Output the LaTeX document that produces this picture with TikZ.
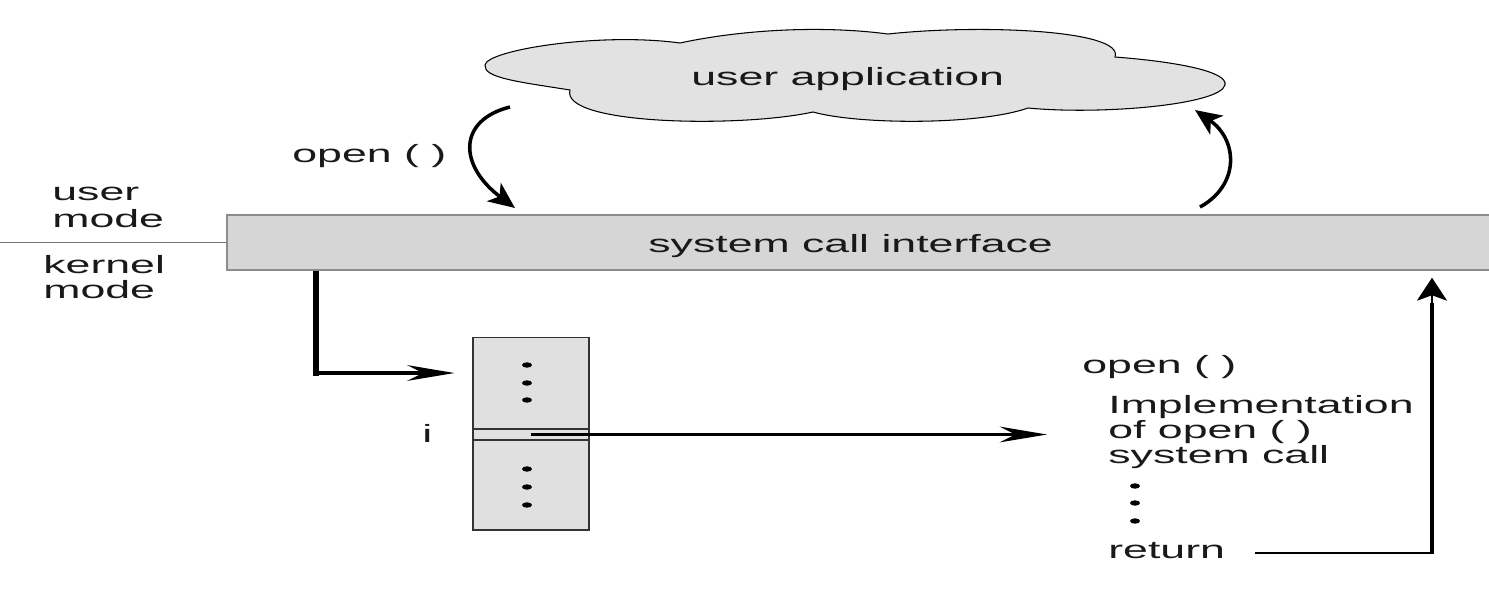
\documentclass[tikz,border=0pt]{standalone}
\usepackage{fontspec}
\setmainfont{Liberation Sans}[FakeStretch=1.79]
\usepackage{tikz}
\usetikzlibrary{arrows.meta}
\definecolor{cloudgray}{RGB}{226,226,226}
\definecolor{bargray}{RGB}{214,214,214}
\definecolor{bardraw}{RGB}{140,140,140}
\definecolor{tablegray}{RGB}{224,224,224}
\newcommand{\figfont}{\fontsize{14.2}{14.5}\selectfont}

\begin{document}
\begin{tikzpicture}[
    x=0.02cm, y=-0.02cm,
    font=\figfont,
    txt/.style={inner sep=0pt, anchor=base west, text=black!90},
    callarrow/.style={line width=1.8pt, -{Stealth[length=27pt, width=9pt, inset=9pt]}},
    uparrow/.style={line width=1.6pt, -{Stealth[length=13pt, width=17pt, inset=3pt]}},
    curvearrow/.style={line width=2pt, -{Stealth[length=15pt, width=13pt, inset=4pt]}},
    vline/.style={line width=3.2pt},
    tabledot/.style={fill=black}
]
    \useasboundingbox (0,0) rectangle (1489,600);

    % user application cloud
    \draw[fill=cloudgray, line width=0.6pt]
        (570,90) .. controls (520,82) and (483,78) .. (485,65)
        .. controls (487,50) and (600,32) .. (680,43)
        .. controls (740,30) and (820,25) .. (888,34)
        .. controls (980,24) and (1125,30) .. (1115,57)
        .. controls (1180,62) and (1228,72) .. (1225,85)
        .. controls (1220,105) and (1100,115) .. (1028,108)
        .. controls (980,125) and (860,125) .. (813,112)
        .. controls (740,128) and (560,125) .. cycle;
    \node[txt] (app) at (691,85) {user application};

    % system call interface bar
    \node[
        fill=bargray,
        draw=bardraw,
        line width=0.8pt,
        minimum width=25.4cm,
        minimum height=1.1cm,
        inner sep=0pt
    ] (sci) at (862,242.5) {};
    \node[txt] (scitext) at (648,252) {system call interface};

    % user / kernel mode
    \coordinate (modeedge) at (0,242.5);
    \draw[draw=black!55, line width=0.5pt] (modeedge) -- (sci.west);
    \node[txt] (user) at (52,200) {user};
    \node[txt] (usermode) at (52,227) {mode};
    \node[txt] (kernel) at (43,273) {kernel};
    \node[txt] (kernelmode) at (43,298) {mode};

    % call and return round the interface
    \node[txt] (opencall) at (292,162) {open ( )};
    \coordinate (appout) at (510,107);
    \coordinate (sciin) at (515,208);
    \draw[curvearrow] (appout) .. controls (458,120) and (458,165) .. (sciin);
    \coordinate (sciout) at (1200,207);
    \coordinate (appin) at (1195,110);
    \draw[curvearrow] (sciout) .. controls (1240,185) and (1238,140) .. (appin);

    % system call table
    \node[
        draw=black!80,
        fill=tablegray,
        line width=0.6pt,
        minimum width=2.32cm,
        minimum height=3.86cm,
        inner sep=0pt
    ] (tbl) at (531,433.5) {};
    \node[draw=black!80, line width=0.6pt, minimum width=2.32cm, minimum height=0.22cm, inner sep=0pt] (entry) at (531,434.5) {};
    \foreach \y in {365,383,400,469,487,505}
        \fill[tabledot] (527,\y) ellipse [x radius=0.1cm, y radius=0.054cm];
    \node[txt] (idx) at (422,442) {i};

    % implementation of open ()
    \node[txt] (openimpl) at (1082,373) {open ( )};
    \node[txt] (impl1) at (1108,413) {Implementation};
    \node[txt] (impl2) at (1108,438) {of open ( )};
    \node[txt] (impl3) at (1108,463) {system call};
    \foreach \y in {486,503,521}
        \fill[tabledot] (1135,\y) ellipse [x radius=0.1cm, y radius=0.054cm];
    \node[txt] (ret) at (1108,558) {return};

    % connectors
    \coordinate (turn) at (316,373);
    \draw[callarrow, shorten >=0.36cm] (sci.south -| turn) -- (turn) -- (tbl.west |- turn);
    \draw[vline] (sci.south -| turn) -- ([yshift=-1.6pt]turn);
    \draw[callarrow, shorten >=1.22cm] (entry.center) -- (entry.center -| impl2.west);
    \coordinate (retout) at (1255,553);
    \coordinate (retup) at (1432,553);
    \draw[uparrow, shorten >=0.14cm] (retout) -- (retup) -- (sci.south -| retup);
    \draw[line width=2.4pt] ([yshift=-0.8pt]retup) -- ([yshift=5cm]retup);
\end{tikzpicture}
\end{document}
